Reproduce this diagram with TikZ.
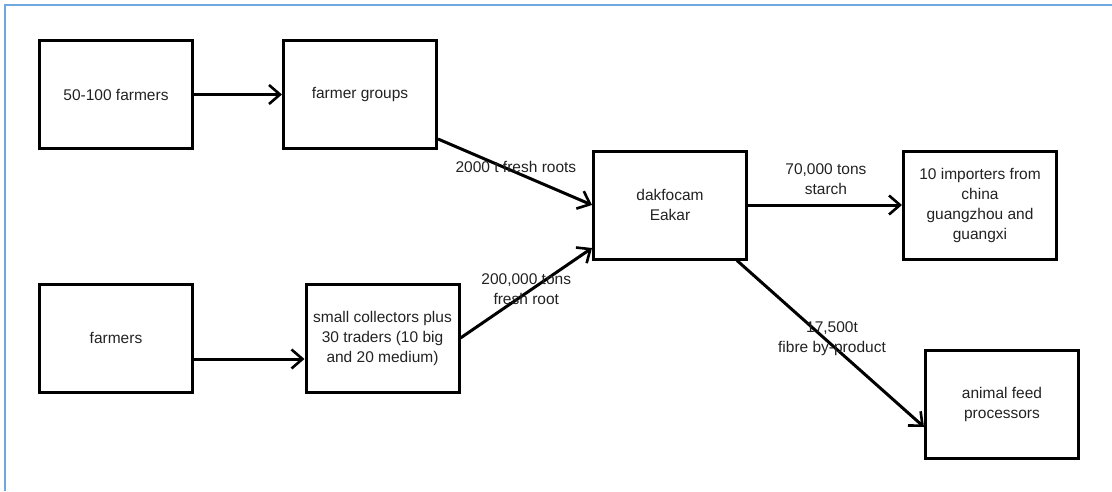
\documentclass[tikz,border=0pt]{standalone}
\usepackage{fontspec}
\setmainfont{Liberation Sans}
\usetikzlibrary{arrows.meta}
\definecolor{frameblue}{HTML}{6FA8DC}
\definecolor{txt}{HTML}{222222}
\begin{document}
\begin{tikzpicture}[x=1pt,y=-1pt,
  box/.style={draw=black,line width=3pt,minimum width=153pt,minimum height=108pt,
    inner sep=0pt,align=center,text=txt,font=\fontsize{15.5}{20}\selectfont},
  flow/.style={draw=black,line width=3pt,-{Straight Barb[length=11pt,width=19pt,line width=2.6pt]}},
  lbl/.style={text=txt,font=\fontsize{15.5}{20}\selectfont,align=center,inner sep=0pt}]
\useasboundingbox (0,0) rectangle (1112,491);
\draw[frameblue,line width=2pt] (5,491) -- (5,5) -- (1112,5);

\node[box] (b1) at (116,94.5) {50-100 farmers};
\node[box] (fg) at (360,94.5) {farmer groups};
\node[box] (f) at (116,338) {farmers};
\node[box] (sc) at (382.5,338) {small collectors plus\\30 traders (10 big\\and 20 medium)};
\node[box] (dak) at (670,205) {dakfocam\\Eakar};
\node[box] (imp) at (980,205) {10 importers from\\china\\guangzhou and\\guangxi};
\node[box] (feed) at (1002,404.5) {animal feed\\processors};

\draw[flow] (b1.east) -- (fg.west);
\draw[flow] ([yshift=-21pt]f.east) -- ([yshift=-21pt]sc.west);
\draw[flow] ([yshift=-44.5pt]fg.east) -- (dak.west)
  node[lbl,pos=0.506,yshift=5pt] (l1) {2000 t fresh roots};
\draw[flow] (sc.east) -- ([yshift=-43pt]dak.west)
  node[lbl,pos=0.5,yshift=4pt] (l2) {200,000 tons\\fresh root};
\draw[flow] (dak.east) -- (imp.west)
  node[lbl,pos=0.506,yshift=26pt] (l3) {70,000 tons\\starch};
\draw[flow] ([xshift=-11pt]dak.south east) -- ([yshift=-22.5pt]feed.west)
  node[lbl,pos=0.508,yshift=6pt] (l4) {17,500t\\fibre by-product};
\end{tikzpicture}
\end{document}
